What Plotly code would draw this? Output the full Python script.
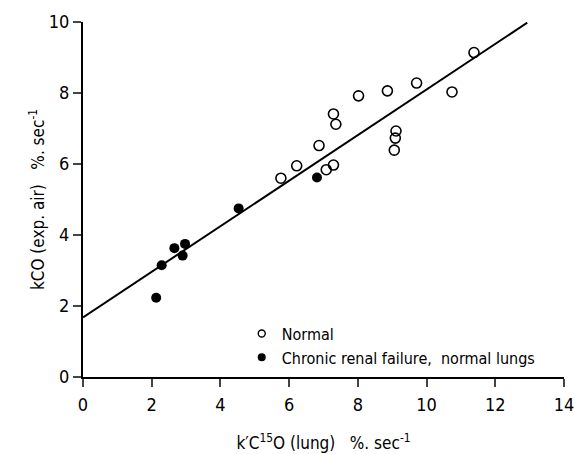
import plotly.graph_objects as go

normal_x = [5.76, 6.22, 6.87, 7.08, 7.29, 7.29, 7.36, 8.02, 8.86, 9.71, 10.74, 11.38, 9.11, 9.09, 9.06]
normal_y = [5.60, 5.95, 6.52, 5.84, 5.97, 7.41, 7.12, 7.92, 8.06, 8.28, 8.03, 9.14, 6.93, 6.73, 6.39]

crf_x = [2.13, 2.29, 2.66, 2.90, 2.97, 4.53, 6.81]
crf_y = [2.23, 3.15, 3.63, 3.42, 3.75, 4.75, 5.62]

fit_x = [0.0, 12.93]
intercept = 1.68
slope = 0.642
fit_y = [intercept + slope * v for v in fit_x]

x_ticks = [0, 2, 4, 6, 8, 10, 12, 14]
y_ticks = [0, 2, 4, 6, 8, 10]

FONT = "Liberation Sans Narrow, DejaVu Sans Condensed, Arial Narrow, sans-serif"

fig = go.Figure()
fig.add_trace(go.Scatter(x=fit_x, y=fit_y, mode="lines",
                         line=dict(color="black", width=2), showlegend=False,
                         hoverinfo="skip"))
fig.add_trace(go.Scatter(x=normal_x, y=normal_y, mode="markers", name="Normal",
                         showlegend=False,
                         marker=dict(symbol="circle-open", size=10, color="black",
                                     line=dict(width=1.6, color="black"))))
fig.add_trace(go.Scatter(x=crf_x, y=crf_y, mode="markers",
                         name="Chronic renal failure,  normal lungs",
                         showlegend=False,
                         marker=dict(symbol="circle", size=10, color="black")))
# legend entries (smaller symbols, as in the reference key)
fig.add_trace(go.Scatter(x=[None], y=[None], mode="markers", name="Normal",
                         marker=dict(symbol="circle-open", size=7, color="black",
                                     line=dict(width=1.4, color="black"))))
fig.add_trace(go.Scatter(x=[None], y=[None], mode="markers",
                         name="Chronic renal failure,  normal lungs",
                         marker=dict(symbol="circle", size=8, color="black")))

fig.update_layout(
    width=575, height=454,
    margin=dict(l=83, r=11, t=22, b=77, autoexpand=False),
    paper_bgcolor="white", plot_bgcolor="white",
    font=dict(family=FONT, size=16, color="black"),
    legend=dict(x=0.33, y=0.17, xanchor="left", yanchor="top",
                bgcolor="rgba(0,0,0,0)", font=dict(size=16), itemwidth=30,
                tracegroupgap=0),
    xaxis=dict(range=[0, 14], tickvals=x_ticks, ticks="outside", ticklen=8,
               tickwidth=2, showline=True, linewidth=2, linecolor="black",
               showgrid=False, zeroline=False, tickfont=dict(size=18),
               ticklabelstandoff=2, automargin=False,
               title=dict(text="k\u2032C<sup>15</sup>O (lung)   %. sec<sup>-1</sup>",
                          font=dict(size=17), standoff=24)),
    yaxis=dict(range=[0, 10], tickvals=y_ticks, ticks="outside", ticklen=8,
               tickwidth=2, showline=True, linewidth=2, linecolor="black",
               showgrid=False, zeroline=False, tickfont=dict(size=18),
               automargin=False,
               title=dict(text="kCO (exp. air)   %. sec<sup>-1</sup>",
                          font=dict(size=17), standoff=0)),
)

fig.write_html("out.html")
